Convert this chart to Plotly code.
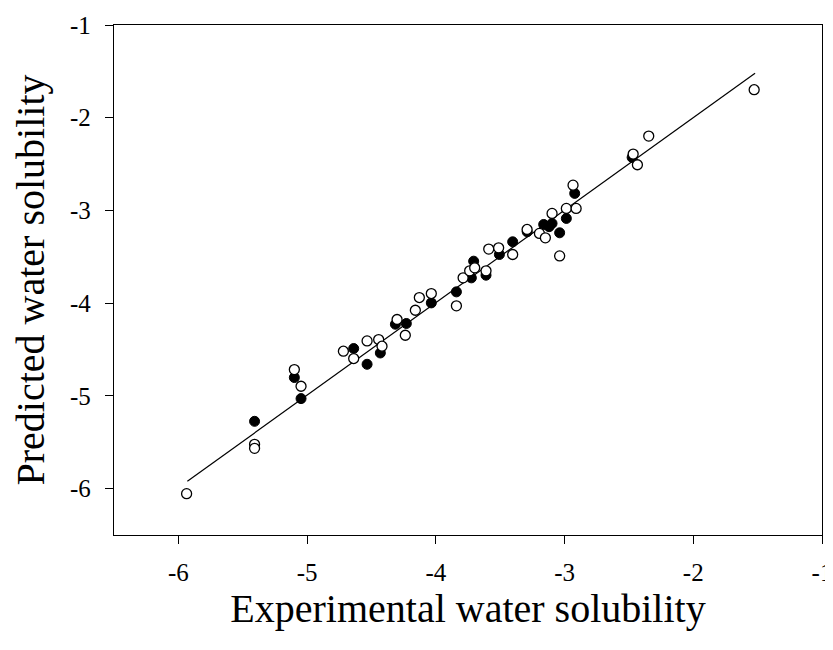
import plotly.graph_objects as go

# Filled circles (training set)
filled_x = [-5.408, -5.099, -5.047, -4.638, -4.534, -4.431, -4.314, -4.229, -4.035, -3.840,
            -3.724, -3.706, -3.610, -3.506, -3.403, -3.290, -3.162, -3.097, -3.120, -3.038,
            -2.986, -2.921, -2.475]
filled_y = [-5.274, -4.802, -5.029, -4.489, -4.659, -4.537, -4.227, -4.219, -3.997, -3.878,
            -3.727, -3.547, -3.698, -3.475, -3.338, -3.230, -3.151, -3.140, -3.175, -3.241,
            -3.086, -2.816, -2.428]

# Open circles (test set)
open_x = [-5.936, -5.408, -5.408, -5.099, -5.047, -4.718, -4.638, -4.534, -4.444, -4.418,
          -4.301, -4.237, -4.159, -4.128, -4.035, -3.840, -3.788, -3.737, -3.698, -3.610,
          -3.589, -3.512, -3.403, -3.291, -3.195, -3.149, -3.097, -3.038, -2.986, -2.910,
          -2.934, -2.467, -2.434, -2.346, -1.527]
open_y = [-6.054, -5.522, -5.565, -4.716, -4.896, -4.518, -4.597, -4.407, -4.392, -4.464,
          -4.176, -4.346, -4.076, -3.939, -3.896, -4.029, -3.727, -3.651, -3.619, -3.651,
          -3.417, -3.403, -3.475, -3.205, -3.248, -3.295, -3.032, -3.490, -2.978, -2.978,
          -2.727, -2.392, -2.507, -2.198, -1.698]

# Fitted line endpoints
line_x = [-5.93, -1.52]
line_y = [-5.92, -1.52]

tick_vals = [-6, -5, -4, -3, -2, -1]
tick_text = ["-6", "-5", "-4", "-3", "-2", "-1"]

x_title = "Experimental water solubility"
y_title = "Predicted water solubility"

fig = go.Figure()
fig.add_trace(go.Scatter(x=line_x, y=line_y, mode="lines",
                         line=dict(color="black", width=1.2), showlegend=False))
fig.add_trace(go.Scatter(x=filled_x, y=filled_y, mode="markers",
                         marker=dict(symbol="circle", size=10, color="black",
                                     line=dict(color="black", width=1)),
                         showlegend=False))
fig.add_trace(go.Scatter(x=open_x, y=open_y, mode="markers",
                         marker=dict(symbol="circle", size=10, color="white",
                                     line=dict(color="black", width=1.3)),
                         showlegend=False))

axis_common = dict(
    showgrid=False, zeroline=False, showline=True, linecolor="black", linewidth=1.3,
    mirror=True, ticks="outside", ticklen=8, tickwidth=1.3, tickcolor="black",
    tickvals=tick_vals, ticktext=tick_text, automargin=False,
    tickfont=dict(family="Liberation Serif", size=25, color="black"),
)

# The page body has an 8px default margin, so the figure is sized to fit the window.
fig.update_layout(
    width=825, height=642,
    margin=dict(l=106, r=11, t=17, b=115),
    plot_bgcolor="white", paper_bgcolor="white",
    xaxis=dict(range=[-6.5, -1], ticklabelstandoff=7,
               title=dict(text=x_title, standoff=0,
                          font=dict(family="Liberation Serif", size=40, color="black")),
               **axis_common),
    yaxis=dict(range=[-6.5, -1], ticklabelstandoff=9,
               title=dict(text=y_title, standoff=19,
                          font=dict(family="Liberation Serif", size=40, color="black")),
               **axis_common),
)

fig.write_html("out.html")
